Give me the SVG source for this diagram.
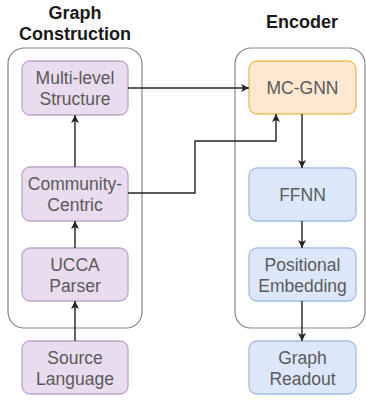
<svg xmlns="http://www.w3.org/2000/svg" width="366" height="401" viewBox="0 0 366 401">
  <defs>
    <marker id="arrow" viewBox="0 0 10 10" refX="10" refY="5" markerWidth="8" markerHeight="8" markerUnits="userSpaceOnUse" orient="auto">
      <path d="M0,0 L10,5 L0,10 L2.5,5 Z" fill="#222"/>
    </marker>
    <style>
      .title { font-family: "Liberation Sans", Arial, sans-serif; font-size: 18px; font-weight: bold; fill: #1a1a1a; text-anchor: middle; }
      .label { font-family: "Liberation Sans", Arial, sans-serif; font-size: 17.5px; fill: #5a5a5a; text-anchor: middle; }
      .group { fill: #ffffff; stroke: #858585; stroke-width: 1.2; }
      .purple { fill: #e8dcee; stroke: #bfa3cc; stroke-width: 1.3; }
      .orange { fill: #ffe8cf; stroke: #ecbd55; stroke-width: 1.3; }
      .blue { fill: #dce8fa; stroke: #a3bde3; stroke-width: 1.3; }
      .edge { fill: none; stroke: #222; stroke-width: 1.4; marker-end: url(#arrow); }
    </style>
  </defs>

  <rect width="366" height="401" fill="#ffffff"/>

  <!-- section titles -->
  <text class="title" x="75" y="19">Graph</text>
  <text class="title" x="75" y="40">Construction</text>
  <text class="title" x="302" y="28">Encoder</text>

  <!-- section frames -->
  <g id="graph-construction">
    <rect class="group" x="8" y="48" width="134" height="280" rx="16"/>
  </g>
  <g id="encoder">
    <rect class="group" x="235" y="48" width="130" height="280" rx="16"/>
  </g>

  <!-- graph construction nodes -->
  <g id="multi-level-structure">
    <rect class="purple" x="22" y="61" width="106" height="54" rx="8"/>
    <text class="label" x="75" y="84">Multi-level</text>
    <text class="label" x="75" y="105">Structure</text>
  </g>
  <g id="community-centric">
    <rect class="purple" x="22" y="167" width="106" height="54" rx="8"/>
    <text class="label" x="75" y="190">Community-</text>
    <text class="label" x="75" y="211">Centric</text>
  </g>
  <g id="ucca-parser">
    <rect class="purple" x="22" y="248" width="106" height="53" rx="8"/>
    <text class="label" x="75" y="271">UCCA</text>
    <text class="label" x="75" y="292">Parser</text>
  </g>
  <g id="source-language">
    <rect class="purple" x="22" y="341" width="106" height="53" rx="8"/>
    <text class="label" x="75" y="364">Source</text>
    <text class="label" x="75" y="385">Language</text>
  </g>

  <!-- encoder nodes -->
  <g id="mc-gnn">
    <rect class="orange" x="249" y="61" width="107" height="53" rx="8"/>
    <text class="label" x="302.5" y="94">MC-GNN</text>
  </g>
  <g id="ffnn">
    <rect class="blue" x="249" y="168" width="107" height="53" rx="8"/>
    <text class="label" x="302.5" y="201">FFNN</text>
  </g>
  <g id="positional-embedding">
    <rect class="blue" x="249" y="248" width="107" height="53" rx="8"/>
    <text class="label" x="302.5" y="271">Positional</text>
    <text class="label" x="302.5" y="292">Embedding</text>
  </g>
  <g id="graph-readout">
    <rect class="blue" x="249" y="341" width="107" height="53" rx="8"/>
    <text class="label" x="302.5" y="364">Graph</text>
    <text class="label" x="302.5" y="385">Readout</text>
  </g>

  <!-- connectors -->
  <g id="connectors">
    <path class="edge" d="M75,341 L75,301"/>
    <path class="edge" d="M75,248 L75,221"/>
    <path class="edge" d="M75,167 L75,115"/>
    <path class="edge" d="M128,88 L249,88"/>
    <path class="edge" d="M128,193 L195,193 L195,141 L276,141 L276,114"/>
    <path class="edge" d="M302,114 L302,168"/>
    <path class="edge" d="M302,221 L302,248"/>
    <path class="edge" d="M302,301 L302,341"/>
  </g>
</svg>
